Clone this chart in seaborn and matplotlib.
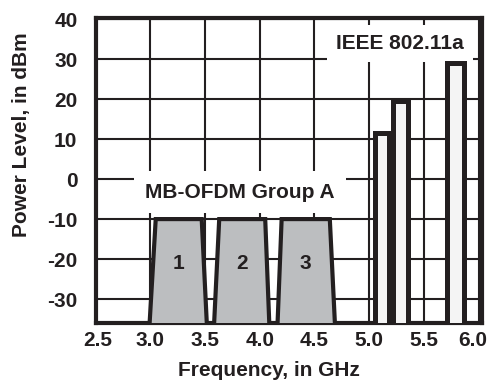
import numpy as np
import pandas as pd
import seaborn as sns
import matplotlib
matplotlib.use("Agg")
import matplotlib.pyplot as plt
import matplotlib.transforms as mtransforms

# ---- data ----
band_labels = ["1", "2", "3"]
band_bottom_left = [2.99, 3.58, 4.16]
band_top_left = [3.05, 3.63, 4.20]
band_top_right = [3.47, 4.05, 4.64]
band_bottom_right = [3.52, 4.09, 4.69]
band_level = [-10, -10, -10]
band_label_level = -21

wlan_freq = [5.114, 5.286, 5.787]
wlan_width = [0.127, 0.142, 0.16]
wlan_level = [11.5, 19.5, 29.0]

x_ticks = [2.5, 3.0, 3.5, 4.0, 4.5, 5.0, 5.5, 6.0]
y_ticks = [-30, -20, -10, 0, 10, 20, 30, 40]
floor_level = -36

group_label = "MB-OFDM Group A"
wlan_label = "IEEE 802.11a"

# ---- style ----
sns.set_theme(style="white")
plt.rcParams["font.family"] = ["Liberation Sans", "DejaVu Sans"]
plt.rcParams["font.weight"] = "bold"
ink = "#231f20"

fig = plt.figure(figsize=(4.88, 3.81), dpi=100)
ax = fig.add_axes([0.1957, 0.1522, 0.792, 0.8005])

ax.set_xlim(2.5, 6.03)
ax.set_ylim(floor_level, 40.3)
ax.set_xticks(x_ticks)
ax.set_yticks(y_ticks)
ax.set_xticklabels([f"{v:.1f}" for v in x_ticks])
ax.set_yticklabels([str(v) for v in y_ticks])
ax.grid(True, color=ink, linewidth=1.5, zorder=0)
ax.set_axisbelow(True)
for s in ax.spines.values():
    s.set_color(ink)
    s.set_linewidth(3)
    s.set_visible(True)
ax.tick_params(axis="both", length=0, labelsize=15, colors=ink)
ax.tick_params(axis="y", pad=13)
ax.tick_params(axis="x", pad=6)
for lab in ax.get_xticklabels() + ax.get_yticklabels():
    lab.set_fontweight("bold")
# nudge end labels inward as in the reference
xl = ax.get_xticklabels()
xl[-1].set_transform(xl[-1].get_transform() +
                     mtransforms.ScaledTranslation(-6 / 100, 0, fig.dpi_scale_trans))
xl[0].set_transform(xl[0].get_transform() +
                    mtransforms.ScaledTranslation(2 / 100, 0, fig.dpi_scale_trans))

# MB-OFDM bands (trapezoids)
bands = pd.DataFrame({
    "label": band_labels,
    "bl": band_bottom_left, "tl": band_top_left,
    "tr": band_top_right, "br": band_bottom_right,
    "level": band_level,
})
for _, r in bands.iterrows():
    xs = [r.bl, r.tl, r.tr, r.br]
    ys = [floor_level - 2, r.level, r.level, floor_level - 2]
    ax.fill(xs, ys, facecolor="#bcbec0", edgecolor=ink, linewidth=3,
            zorder=3, joinstyle="miter")
    ax.text((r.tl + r.tr) / 2, band_label_level, r.label, ha="center",
            va="center", fontsize=15, fontweight="bold", color=ink, zorder=4)

# IEEE 802.11a bars
wlan = pd.DataFrame({"freq": wlan_freq, "width": wlan_width, "level": wlan_level})
ax.bar(wlan["freq"], wlan["level"] - (floor_level - 2), width=wlan["width"],
       bottom=floor_level - 2, facecolor="#f4f4f4", edgecolor=ink,
       linewidth=3.6, zorder=3)

# annotations with white boxes
ax.text(3.82, -3.3, group_label, ha="center", va="center", fontsize=15,
        fontweight="bold", color=ink, zorder=2.5,
        bbox=dict(boxstyle="square,pad=0.55", facecolor="white", edgecolor="none"))
ax.text(5.28, 33.9, wlan_label, ha="center", va="center", fontsize=15,
        fontweight="bold", color=ink, zorder=2.5,
        bbox=dict(boxstyle="square,pad=0.45", facecolor="white", edgecolor="none"))

ax.set_xlabel("Frequency, in GHz", fontsize=15, fontweight="bold", color=ink)
ax.set_ylabel("Power Level, in dBm", fontsize=15, fontweight="bold", color=ink)
ax.xaxis.set_label_coords(0.45, -0.125)
ax.yaxis.set_label_coords(-0.167, 0.616)

fig.savefig("out.png", dpi=100)
